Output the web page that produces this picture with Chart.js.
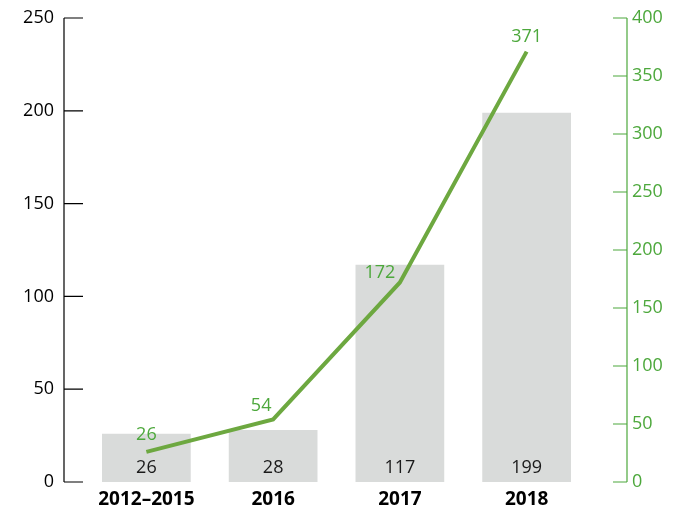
<!DOCTYPE html>
<html>
<head>
<meta charset="utf-8">
<script src="https://cdn.jsdelivr.net/npm/chart.js@4"></script>
<style>
  body { margin: 0; background: #fff; }
  #wrap { width: 681px; height: 510px; }
</style>
</head>
<body>
<div id="wrap"><canvas id="chart" width="681" height="510"></canvas></div>
<script>
const categories = ['2012–2015', '2016', '2017', '2018'];
const barValues = [26, 28, 117, 199];
const lineValues = [26, 54, 172, 371];
const leftTicks = [0, 50, 100, 150, 200, 250];
const rightTicks = [0, 50, 100, 150, 200, 250, 300, 350, 400];

const GREEN = '#4da83c';
const LINE_GREEN = '#6da840';
const FONT = "'Open Sans', 'Noto Sans', sans-serif";
// nudges for the green labels so they clear the line (dx, dy in px)
const lineLabelNudge = [[0, -17], [-12, -13], [-20, -10], [0, -15]];

// axis lines + tick marks drawn by hand, they sit away from the plot area
const axisPlugin = {
    id: 'axisLines',
    afterDraw(chart) {
        const c = chart.ctx;
        const yl = chart.scales.y;
        const yr = chart.scales.y2;
        c.save();
        c.lineWidth = 1.2;
        // left
        c.strokeStyle = '#000';
        const lx = 64, lEnd = 83;
        c.beginPath();
        c.moveTo(lx, yl.getPixelForValue(250));
        c.lineTo(lx, yl.getPixelForValue(0));
        leftTicks.forEach(v => {
            const y = yl.getPixelForValue(v);
            c.moveTo(lx, y);
            c.lineTo(lEnd, y);
        });
        c.stroke();
        // right
        c.strokeStyle = GREEN;
        const rx = 627, rStart = 613;
        c.beginPath();
        c.moveTo(rx, yr.getPixelForValue(400));
        c.lineTo(rx, yr.getPixelForValue(0));
        rightTicks.forEach(v => {
            const y = yr.getPixelForValue(v);
            c.moveTo(rStart, y);
            c.lineTo(rx, y);
        });
        c.stroke();
        c.restore();
    }
};

// value labels
const labelPlugin = {
    id: 'valueLabels',
    afterDatasetsDraw(chart) {
        const c = chart.ctx;
        c.save();
        c.textAlign = 'center';
        c.textBaseline = 'middle';
        c.font = '18px ' + FONT;
        const bars = chart.getDatasetMeta(1).data;
        c.fillStyle = '#1a1a1a';
        bars.forEach((b, i) => {
            c.fillText(barValues[i], b.x, chart.scales.y.getPixelForValue(0) - 14);
        });
        const pts = chart.getDatasetMeta(0).data;
        c.fillStyle = GREEN;
        pts.forEach((p, i) => {
            c.fillText(lineValues[i], p.x + lineLabelNudge[i][0], p.y + lineLabelNudge[i][1]);
        });
        c.restore();
    }
};

// tick padding also pads the axis vertically, undo that
function fixWidth(w) {
    return function (s) {
        s.width = w;
        s.paddingTop = 0;
        s.paddingBottom = 0;
    };
}

new Chart(document.getElementById('chart'), {
    type: 'bar',
    data: {
        labels: categories,
        datasets: [{
            type: 'line',
            data: lineValues,
            yAxisID: 'y2',
            borderColor: LINE_GREEN,
            borderWidth: 4,
            pointRadius: 0,
            tension: 0,
            order: 0
        }, {
            type: 'bar',
            data: barValues,
            yAxisID: 'y',
            backgroundColor: '#d9dbda',
            barPercentage: 0.7,
            categoryPercentage: 1,
            order: 1
        }]
    },
    options: {
        responsive: false,
        animation: false,
        layout: { padding: { top: 18, left: 0, right: 0, bottom: 0 } },
        plugins: {
            legend: { display: false },
            tooltip: { enabled: false }
        },
        scales: {
            x: {
                grid: { display: false, drawTicks: false },
                border: { display: false },
                ticks: {
                    color: '#000',
                    font: { family: FONT, size: 19, weight: 'bold' },
                    padding: 6
                },
                afterFit(s) { s.height = 28; }
            },
            y: {
                position: 'left',
                min: 0,
                max: 250,
                grid: { display: false, drawTicks: false },
                border: { display: false },
                ticks: {
                    stepSize: 50,
                    color: '#000',
                    padding: 29,
                    font: { family: FONT, size: 18 }
                },
                afterFit: fixWidth(83)
            },
            y2: {
                position: 'right',
                min: 0,
                max: 400,
                grid: { display: false, drawTicks: false },
                border: { display: false },
                ticks: {
                    stepSize: 50,
                    color: GREEN,
                    padding: 42,
                    font: { family: FONT, size: 18 }
                },
                afterFit: fixWidth(91)
            }
        }
    },
    plugins: [axisPlugin, labelPlugin]
});
</script>
</body>
</html>
